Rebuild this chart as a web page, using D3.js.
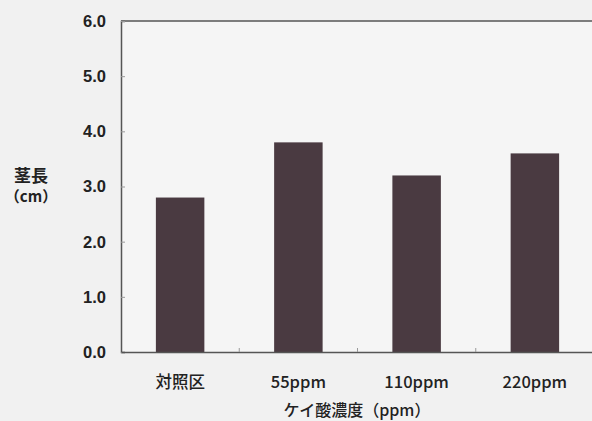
<!DOCTYPE html>
<html><head><meta charset="utf-8">
<script src="https://cdn.jsdelivr.net/npm/d3@7"></script>
<style>
html,body{margin:0;padding:0;background:#f2f2f2;}
svg{display:block;}
text{font-family:"Liberation Sans","Noto Sans CJK JP",sans-serif;fill:#222;}
.jp{font-family:"Noto Sans CJK JP",sans-serif;}
</style></head><body>
<script>
const categories = ["対照区", "55ppm", "110ppm", "220ppm"];
const values = [2.8, 3.8, 3.2, 3.6];
const yTicks = [0, 1, 2, 3, 4, 5, 6];
const yTitle = ["茎長", "（cm）"];
const xTitle = "ケイ酸濃度（ppm）";

const W = 592, H = 421;
const m = {left: 121, right: -2, top: 21, bottom: 69};
const svg = d3.select("body").append("svg").attr("width", W).attr("height", H);
svg.append("rect").attr("width", W).attr("height", H).attr("fill", "#f1f1f1");

const x = d3.scaleBand().domain(categories).range([m.left, W - m.right]).paddingInner(0.59).paddingOuter(0.295);
const y = d3.scaleLinear().domain([0, 6]).range([H - m.bottom, m.top]);

// plot area
svg.append("rect").attr("x", m.left).attr("y", m.top).attr("width", W - m.right - m.left).attr("height", y(0) - m.top)
  .attr("fill", "#f5f5f5");

// bars
svg.selectAll("rect.bar").data(values).enter().append("rect").attr("class", "bar")
  .attr("x", (d, i) => x(categories[i])).attr("width", x.bandwidth())
  .attr("y", d => y(d)).attr("height", d => y(0) - y(d))
  .attr("fill", "#4a3a41");

// frame top
svg.append("line").attr("x1", m.left).attr("x2", W).attr("y1", y(6)).attr("y2", y(6))
  .attr("stroke", "#555").attr("stroke-width", 1.5);

// y axis
const yAx = svg.append("g").attr("transform", `translate(${m.left},0)`)
  .call(d3.axisRight(y).tickValues(yTicks).tickSize(4).tickFormat(""));
yAx.select(".domain").attr("stroke", "#555").attr("stroke-width", 1.5);
yAx.selectAll(".tick line").attr("stroke", "#999");
svg.selectAll("text.ytl").data(yTicks).enter().append("text").attr("class", "ytl")
  .attr("x", 106).attr("y", d => y(d)).attr("dy", "0.36em").attr("text-anchor", "end")
  .attr("font-size", 16.5).attr("font-weight", "bold").attr("fill", "#2a2a2a").text(d => d.toFixed(1));

// x axis
const bounds = categories.slice(1).map(c => x(c) - x.step() * x.paddingInner() / 2);
const xAx = svg.append("g").attr("transform", `translate(0,${y(0)})`)
  .call(d3.axisTop(x).tickSize(0).tickFormat(""));
xAx.select(".domain").attr("stroke", "#555").attr("stroke-width", 1.5);
svg.selectAll("line.xt").data(bounds).enter().append("line").attr("class", "xt")
  .attr("x1", d => d).attr("x2", d => d).attr("y1", y(0)).attr("y2", y(0) - 4)
  .attr("stroke", "#999");
svg.selectAll("text.xtl").data(categories).enter().append("text").attr("class", "xtl jp")
  .attr("x", d => x(d) + x.bandwidth() / 2).attr("y", 388).attr("text-anchor", "middle")
  .attr("font-size", 16.5).attr("font-weight", 500).text(d => d);

svg.append("text").attr("class", "jp").attr("x", 357).attr("y", 416).attr("text-anchor", "middle")
  .attr("font-size", 16).attr("font-weight", 500).text(xTitle);

svg.append("text").attr("class", "jp").attr("x", 31).attr("y", 182).attr("text-anchor", "middle")
  .attr("font-size", 17).attr("font-weight", "bold").text(yTitle[0]);
svg.append("text").attr("class", "jp").attr("x", 31).attr("y", 202).attr("text-anchor", "middle")
  .attr("font-size", 15).attr("font-weight", "bold").text(yTitle[1]);
</script>
</body></html>
